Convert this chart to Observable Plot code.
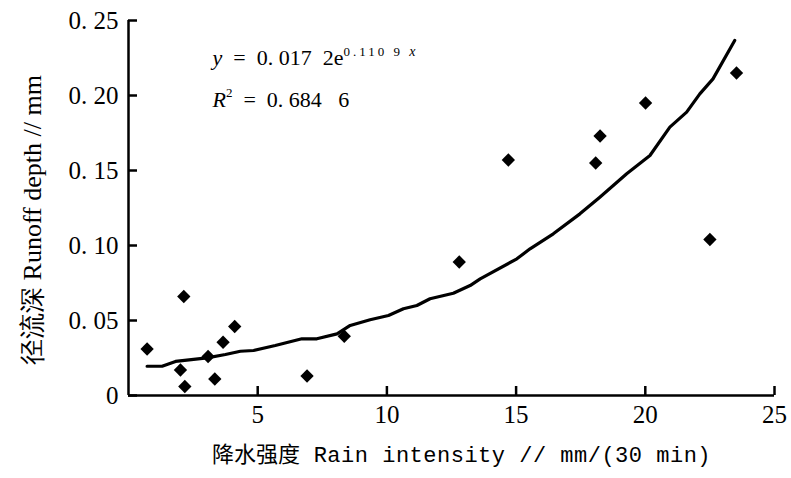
<!DOCTYPE html>
<html><head><meta charset="utf-8">
<script src="https://cdn.jsdelivr.net/npm/d3@7"></script>
<script src="https://cdn.jsdelivr.net/npm/@observablehq/plot@0.6"></script>
<style>
html,body{margin:0;padding:0;background:#fff;}
svg text{white-space:pre;}
</style></head><body><div id="chart"></div>
<script>
// Observed points: rain intensity (mm/30 min) vs runoff depth (mm)
const rainX   = [0.72, 2.14, 2.01, 2.18, 3.08, 3.34, 3.66, 4.11, 6.91, 8.35, 12.8, 14.7, 18.08, 18.25, 20.01, 22.5, 23.53];
const runoffY = [0.031, 0.066, 0.017, 0.006, 0.026, 0.011, 0.0355, 0.046, 0.013, 0.0395, 0.089, 0.157, 0.155, 0.173, 0.195, 0.104, 0.215];

// Fitted curve as drawn
const fitX = [0.72, 1.30, 1.82, 3.04, 3.75, 4.33, 4.84, 5.68, 6.71, 7.29, 8.07, 8.58, 9.35, 10.06, 10.64, 11.16, 11.67, 12.57, 13.22, 13.61, 15.03, 15.54, 16.44, 17.47, 18.24, 19.28, 20.18, 20.95, 21.60, 22.11, 22.62, 23.46];
const fitY = [0.0195, 0.0195, 0.0227, 0.0251, 0.0273, 0.0295, 0.0300, 0.0333, 0.0378, 0.0378, 0.0411, 0.0467, 0.0505, 0.0533, 0.0578, 0.0600, 0.0645, 0.0682, 0.0733, 0.0778, 0.0911, 0.0978, 0.1078, 0.1211, 0.1322, 0.1478, 0.1600, 0.1789, 0.1889, 0.2011, 0.2111, 0.2367];

const xTicks = [5, 10, 15, 20, 25];
const xTickLabels = ["5", "10", "15", "20", "25"];
const yTicks = [0, 0.05, 0.10, 0.15, 0.20, 0.25];
const yTickLabels = ["0", "0. 05", "0. 10", "0. 15", "0. 20", "0. 25"];

const xTitleCJK = "降水强度";
const xTitleLatin = " Rain intensity // mm/(30 min)";
const yTitle = "径流深 Runoff depth // mm";
const eqCoef = "  =  0. 017  2e";
const eqExp = "0.110 9 ";
const r2Value = "  =  0. 684   6";

const pts = rainX.map((x, i) => ({x, y: runoffY[i]}));
const fit = fitX.map((x, i) => ({x, y: fitY[i]}));
const xLab = new Map(xTicks.map((t, i) => [t, xTickLabels[i]]));
const yLab = new Map(yTicks.map((t, i) => [t, yTickLabels[i]]));

const chart = Plot.plot({
  width: 791, height: 478,
  marginLeft: 128, marginRight: 17, marginTop: 20, marginBottom: 83,
  style: {fontFamily: "'Liberation Serif', serif", fontSize: "25px", color: "#000", background: "#fff", overflow: "visible"},
  x: {domain: [0, 25]},
  y: {domain: [0, 0.25]},
  marks: [
    // axes with inward ticks (shifted by their own length)
    Plot.axisX(xTicks, {tickSize: 9, dy: -9, tickPadding: 10, strokeWidth: 2.5, tickFormat: d => xLab.get(d), label: null}),
    Plot.axisY(yTicks, {tickSize: 9, dx: 9, tickPadding: 10, strokeWidth: 2.5, tickFormat: d => yLab.get(d), label: null}),
    Plot.ruleX([0], {strokeWidth: 2.5}),
    Plot.ruleY([0], {strokeWidth: 2.5}),
    Plot.line(fit, {x: "x", y: "y", stroke: "#000", strokeWidth: 3.2}),
    Plot.dot(pts, {x: "x", y: "y", symbol: "diamond2", r: 6, fill: "#000", stroke: "none"}),
    Plot.text(["XTITLE"], {frameAnchor: "bottom", textAnchor: "middle", dx: 10, dy: 66, fontSize: 22}),
    Plot.text([yTitle], {frameAnchor: "left", textAnchor: "middle", rotate: -90, dx: -96, dy: 12, fontSize: 26}),
    Plot.text(["EQ1"], {frameAnchor: "top-left", textAnchor: "start", lineAnchor: "top", dx: 84, dy: 29, fontSize: 22}),
    Plot.text(["EQ2"], {frameAnchor: "top-left", textAnchor: "start", lineAnchor: "top", dx: 84, dy: 71, fontSize: 22})
  ]
});
document.getElementById("chart").appendChild(chart);

const svg = d3.select(chart);
svg.selectAll("text").each(function() {
  const t = d3.select(this);
  const s = this.textContent;
  if (s === "XTITLE") {
    t.text("");
    t.append("tspan").attr("font-family", "'Noto Sans CJK SC', sans-serif").text(xTitleCJK);
    t.append("tspan").attr("font-family", "'Liberation Mono', monospace").attr("letter-spacing", "0.5").text(xTitleLatin);
  } else if (s === "EQ1") {
    t.text("");
    t.append("tspan").attr("font-style", "italic").text("y");
    t.append("tspan").text(eqCoef);
    t.append("tspan").attr("font-size", 13).attr("dy", -9).attr("letter-spacing", "3").text(eqExp);
    t.append("tspan").attr("font-size", 14).attr("font-style", "italic").text("x");
  } else if (s === "EQ2") {
    t.text("");
    t.append("tspan").attr("font-style", "italic").text("R");
    t.append("tspan").attr("font-size", 13).attr("dy", -10).text("2");
    t.append("tspan").attr("dy", 10).text(r2Value);
  }
});
</script></body></html>
